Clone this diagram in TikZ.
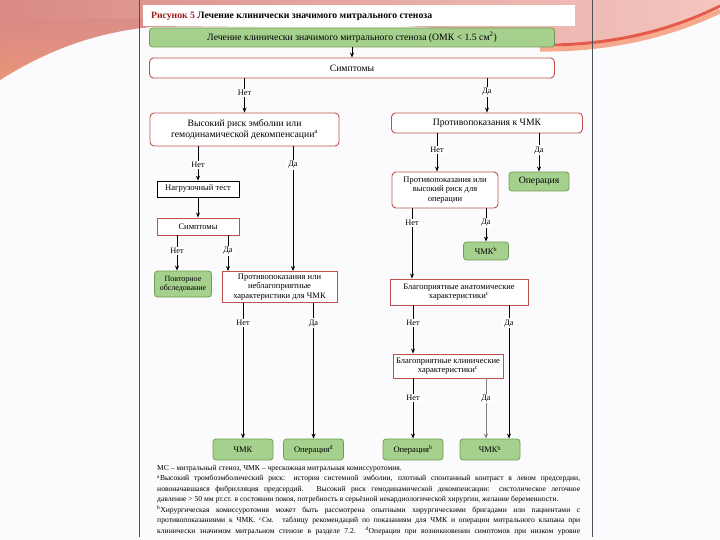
\documentclass[tikz,border=0pt]{standalone}
\usepackage{fontspec}
\setmainfont{Liberation Serif}
\usetikzlibrary{arrows.meta}
\definecolor{gfill}{HTML}{A6D08E}
\definecolor{gdraw}{HTML}{6E9E50}
\definecolor{rdraw}{HTML}{C0504D}
\definecolor{bgc}{HTML}{FBFBFD}
\definecolor{titlered}{HTML}{A31A1A}
\definecolor{swl}{HTML}{DA8A86}
\definecolor{swr}{HTML}{F3C6BE}
\definecolor{swo}{HTML}{F09A72}
\definecolor{swred}{HTML}{E65A4A}
\definecolor{sworange}{HTML}{F6A98C}
\definecolor{docline}{HTML}{4A4F5A}
\begin{document}
\begin{tikzpicture}[x=1pt,y=-1pt,
  redbox/.style={draw=rdraw, line width=0.9pt, fill=white, align=center, inner sep=1pt, font=\fontsize{8.5}{9.5}\selectfont},
  rbox/.style={redbox, rounded corners=4pt},
  gbox/.style={draw=gdraw, line width=0.8pt, fill=gfill, rounded corners=3pt, align=center, inner sep=1pt, font=\fontsize{8.5}{9.5}\selectfont},
  kbox/.style={draw=black, line width=0.7pt, fill=white, align=center, inner sep=1pt, font=\fontsize{8.5}{9.5}\selectfont},
  bigtxt/.style={font=\fontsize{9.7}{11}\selectfont},
  arr/.style={-{Stealth[length=5pt,width=4pt]}, line width=0.9pt},
  lbl/.style={fill=white, inner sep=1.2pt, font=\fontsize{8.3}{9}\selectfont}
]
\useasboundingbox (0,0) rectangle (720,540);
\fill[bgc] (0,0) rectangle (720,540);
% background swoosh
\shade[left color=swl, right color=swr] (0,0) -- (0,80) .. controls (50,48) and (100,32) .. (150,27) -- (360,25) .. controls (470,25) and (530,44) .. (585,45) .. controls (640,44) and (690,22) .. (720,6) -- (720,0) -- cycle;
\begin{scope}
\clip (0,0) -- (0,80) .. controls (50,48) and (100,32) .. (150,27) -- (150,0) -- cycle;
\shade[top color=swl, bottom color=swo, opacity=0.7] (0,20) rectangle (150,80);
\end{scope}
\draw[sworange, line width=5pt] (540,49) .. controls (620,50) and (680,30) .. (720,11);
\draw[swred, line width=3pt] (540,45) .. controls (620,46) and (680,26) .. (720,6);
% document edges
\draw[docline, line width=0.8pt] (139,0) -- (139,537);
\draw[docline, line width=0.8pt] (592,0) -- (592,537);
% title strip
\fill[white] (143,5) rectangle (575,26);
\node[anchor=west, inner sep=0pt, font=\bfseries\fontsize{9.7}{12}\selectfont] (title) at (151,16) {\textcolor{titlered}{Рисунок 5} Лечение клинически значимого митрального стеноза};

% x positions
\coordinate (cx177) at (177,0);
\coordinate (cx228) at (228,0);
\coordinate (cx293) at (293,0);
\coordinate (cx437) at (437,0);
\coordinate (cx412) at (412,0);
\coordinate (cx486) at (486,0);
\coordinate (cx509) at (509,0);

% nodes
\node[gbox, bigtxt, minimum width=405pt, minimum height=19pt] (top) at (352,37.5) {Лечение клинически значимого митрального стеноза (ОМК < 1.5 см\textsuperscript{2})};
\node[rbox, bigtxt, minimum width=405pt, minimum height=20pt] (symp) at (352,68) {Симптомы};
\node[rbox, bigtxt, minimum width=189pt, minimum height=33pt] (hrisk) at (244.5,129.5) {Высокий риск эмболии или\\гемодинамической декомпенсации\textsuperscript{a}};
\node[rbox, bigtxt, minimum width=191pt, minimum height=20pt] (contra) at (487,123) {Противопоказания к ЧМК};
\node[kbox, minimum width=82pt, minimum height=16pt] (load) at (198,189) {Нагрузочный тест};
\node[redbox, minimum width=82pt, minimum height=17pt] (symp2) at (198,226.5) {Симптомы};
\node[gbox, font=\fontsize{8}{9}\selectfont, minimum width=57pt, minimum height=26pt] (reexam) at (183,284) {Повторное\\обследование};
\node[redbox, minimum width=115pt, minimum height=31pt] (unfav) at (279.5,287) {Противопоказания или\\неблагоприятные\\характеристики для ЧМК};
\node[rbox, minimum width=106pt, minimum height=36pt] (contraop) at (445,190) {Противопоказания или\\высокий риск для\\операции};
\node[gbox, bigtxt, minimum width=60pt, minimum height=19pt] (op1) at (539,181.5) {Операция};
\node[gbox, minimum width=45pt, minimum height=18pt] (pmc1) at (486,251) {ЧМК\textsuperscript{b}};
\node[redbox, minimum width=138pt, minimum height=26pt] (anat) at (459,292) {Благоприятные анатомические\\характеристики\textsuperscript{c}};
\node[redbox, minimum width=110pt, minimum height=24pt] (clin) at (448,366) {Благоприятные клинические\\характеристики\textsuperscript{c}};
\node[gbox, minimum width=60pt, minimum height=21pt] (b1) at (243,449.5) {ЧМК};
\node[gbox, minimum width=60pt, minimum height=21pt] (b2) at (313.5,449.5) {Операция\textsuperscript{d}};
\node[gbox, minimum width=60pt, minimum height=21pt] (b3) at (413,449.5) {Операция\textsuperscript{b}};
\node[gbox, minimum width=60pt, minimum height=21pt] (b4) at (490,449.5) {ЧМК\textsuperscript{b}};

% connectors
\draw[arr] (top.south) -- (symp.north);
\draw[arr] (symp.south -| hrisk.north) -- node[lbl,pos=.43]{Нет} (hrisk.north);
\draw[arr] (symp.south -| contra.north) -- node[lbl,pos=.4]{Да} (contra.north);
\draw[arr] (hrisk.south -| load.north) -- node[lbl,pos=.54]{Нет} (load.north);
\draw[arr] (hrisk.south -| cx293) -- node[lbl,pos=.15]{Да} (unfav.north -| cx293);
\draw[arr] (load.south) -- (symp2.north);
\draw[arr] (symp2.south -| cx177) -- node[lbl,pos=.44]{Нет} (reexam.north -| cx177);
\draw[arr] (symp2.south -| cx228) -- node[lbl,pos=.43]{Да} (unfav.north -| cx228);
\draw[arr] (unfav.south -| b1.north) -- node[lbl,pos=.15]{Нет} (b1.north);
\draw[arr] (unfav.south -| b2.north) -- node[lbl,pos=.15]{Да} (b2.north);
\draw[arr] (contra.south -| cx437) -- node[lbl,pos=.44]{Нет} (contraop.north -| cx437);
\draw[arr] (contra.south -| op1.north) -- node[lbl,pos=.44]{Да} (op1.north);
\draw[arr] (contraop.south -| cx412) -- node[lbl,pos=.21]{Нет} (anat.north -| cx412);
\draw[arr] (contraop.south -| pmc1.north) -- node[lbl,pos=.44]{Да} (pmc1.north);
\draw[arr] (anat.south -| b3.north) -- node[lbl,pos=.37]{Нет} (clin.north -| b3.north);
\draw[arr] (anat.south -| cx509) -- node[lbl,pos=.134]{Да} (b4.north -| cx509);
\draw[arr] (clin.south -| b3.north) -- node[lbl,pos=.33]{Нет} (b3.north);
\draw[arr, gray] (clin.south -| cx486) -- node[lbl,pos=.33,text=black]{Да} (b4.north -| cx486);

% footnotes
\node[anchor=north west, text width=423pt, align=justify, inner sep=0pt, font=\fontsize{7.6}{10.5}\selectfont] (fn) at (157,465) {МС – митральный стеноз, ЧМК – чрескожная митральная комиссуротомия.\\
\textsuperscript{a}Высокий тромбоэмболический риск: история системной эмболии, плотный спонтанный контраст в левом предсердии,\linebreak новоначавшаяся фибрилляция предсердий. Высокий риск гемодинамической декомпенсации: систолическое легочное\linebreak давление > 50 мм рт.ст. в состоянии покоя, потребность в серьёзной некардиологической хирургии, желание беременности.\\
\textsuperscript{b}Хирургическая комиссуротомия может быть рассмотрена опытными хирургическими бригадами или пациентами с\linebreak противопоказаниями к ЧМК. \textsuperscript{c}См. таблицу рекомендаций по показаниям для ЧМК и операции митрального клапана при\linebreak клинически значимом митральном стенозе в разделе 7.2. \textsuperscript{d}Операция при возникновении симптомов при низком уровне\linebreak\mbox{}};
\end{tikzpicture}
\end{document}
